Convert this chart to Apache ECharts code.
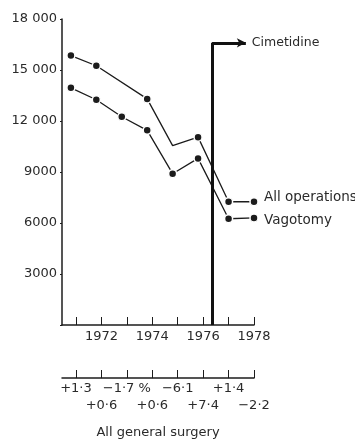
<!DOCTYPE html>
<html>
<head>
<meta charset="utf-8">
<script src="https://cdn.jsdelivr.net/npm/echarts@6/dist/echarts.min.js"></script>
<style>
  html, body { margin: 0; padding: 0; background: #fff; }
  #chart { width: 355px; height: 440px; }
</style>
</head>
<body>
<div id="chart"></div>
<script>
// Surveyed points (fractional year) and annual operation counts
const plotYears = [1970.8, 1971.8, 1972.8, 1973.8, 1974.8, 1975.8, 1977, 1978];
const allOperations = [15850, 15250, null, 13300, 10550, 11050, 7250, 7250];
const allOpsMarker = [true, true, false, true, false, true, true, true];
const vagotomy = [13950, 13250, 12250, 11450, 8900, 9800, 6250, 6300];

// Axis ticks and labels
const tickYears = [1971, 1972, 1973, 1974, 1975, 1976, 1977, 1978];
const labelYears = [1972, 1974, 1976, 1978];
const yTicks = [0, 3000, 6000, 9000, 12000, 15000, 18000];
const yTickLabels = ['', '3000', '6000', '9000', '12 000', '15 000', '18 000'];

// Year-on-year change in all general surgery
const changeYears = [1971, 1972, 1973, 1974, 1975, 1976, 1977, 1978];
const changeLabels = ['+1·3', '+0·6', '−1·7 %', '+0·6', '−6·1', '+7·4', '+1·4', '−2·2'];

// Introduction of cimetidine
const cimetidineYear = 1976.35;
const cimetidineTop = 16600;
const cimetidineArrowEnd = 1977.68;

const INK = '#1c1c1c';
const TEXT = '#2a2a2a';
const FONT = 'DejaVu Sans';
const X_MIN = 1970.45, X_MAX = 1978;

const chart = echarts.init(document.getElementById('chart'), null, { renderer: 'canvas' });

function pairs(xs, ys, markers) {
  return xs.map((x, i) => {
    if (ys[i] === null) return [x, null];
    const item = { value: [x, ys[i]] };
    if (markers && !markers[i]) item.symbol = 'none';
    return item;
  });
}

const textStyle = { color: TEXT, fontFamily: FONT, fontSize: 13 };

chart.setOption({
  animation: false,
  grid: [
    { left: 62, right: 101, top: 19, bottom: 115 },
    { left: 62, right: 101, top: 360, height: 18 }
  ],
  xAxis: [
    {
      type: 'value', gridIndex: 0, min: X_MIN, max: X_MAX,
      axisLine: { show: true, lineStyle: { color: INK, width: 1.5 } },
      axisTick: { show: true, inside: true, length: 8, customValues: tickYears, lineStyle: { color: INK, width: 1 } },
      axisLabel: Object.assign({ customValues: labelYears, margin: 5,
                   formatter: v => String(Math.round(v)) }, textStyle),
      splitLine: { show: false }
    },
    {
      type: 'value', gridIndex: 1, min: X_MIN, max: X_MAX,
      axisLine: { show: true, lineStyle: { color: INK, width: 1.5 } },
      axisTick: { show: true, inside: true, length: 8, customValues: changeYears, lineStyle: { color: INK, width: 1 } },
      axisLabel: { show: false, customValues: changeYears },
      splitLine: { show: false }
    }
  ],
  yAxis: [
    {
      type: 'value', gridIndex: 0, min: 0, max: 18000, interval: 3000,
      axisLine: { show: true, lineStyle: { color: INK, width: 1.5 } },
      axisTick: { show: true, length: 2, lineStyle: { color: INK } },
      axisLabel: Object.assign({ margin: 5,
        formatter: v => yTickLabels[yTicks.indexOf(v)] || '' }, textStyle),
      splitLine: { show: false }
    },
    { type: 'value', gridIndex: 1, show: false, min: 0, max: 1 }
  ],
  series: [
    {
      name: 'All operations',
      type: 'line',
      xAxisIndex: 0, yAxisIndex: 0,
      data: pairs(plotYears, allOperations, allOpsMarker),
      connectNulls: true,
      symbol: 'circle', symbolSize: 8,
      lineStyle: { color: INK, width: 1.3 },
      itemStyle: { color: INK, borderColor: '#fff', borderWidth: 1.5 },
      endLabel: Object.assign({ show: true, formatter: '{a}', distance: 10, offset: [0, -4] },
                              textStyle, { fontSize: 13.5 }),
      markLine: {
        silent: true,
        symbol: ['none', 'none'],
        lineStyle: { color: '#111', width: 3, type: 'solid' },
        label: { show: false },
        data: [
          [ { coord: [cimetidineYear, 0] }, { coord: [cimetidineYear, cimetidineTop] } ],
          [
            { coord: [cimetidineYear, cimetidineTop] },
            { coord: [cimetidineArrowEnd, cimetidineTop], symbol: 'arrow', symbolSize: [7, 9],
              label: Object.assign({ show: true, position: 'end', formatter: 'Cimetidine', distance: 6 },
                                   textStyle, { fontSize: 12.5 }) }
          ]
        ]
      }
    },
    {
      name: 'Vagotomy',
      type: 'line',
      xAxisIndex: 0, yAxisIndex: 0,
      data: pairs(plotYears, vagotomy),
      symbol: 'circle', symbolSize: 8,
      lineStyle: { color: INK, width: 1.3 },
      itemStyle: { color: INK, borderColor: '#fff', borderWidth: 1.5 },
      endLabel: Object.assign({ show: true, formatter: '{a}', distance: 10, offset: [0, 3] },
                              textStyle, { fontSize: 13.5 })
    },
    {
      // percentage change in all general surgery, staggered in two rows
      name: 'All general surgery',
      type: 'scatter',
      xAxisIndex: 1, yAxisIndex: 1,
      symbol: 'circle', symbolSize: 0.5,
      itemStyle: { color: INK, opacity: 1 },
      silent: true,
      data: changeYears.map((y, i) => ({ value: [y, 0], name: changeLabels[i] })),
      label: Object.assign({
        show: true,
        position: 'bottom',
        formatter: p => (p.dataIndex % 2 === 0 ? '' : '\n') + p.name,
        lineHeight: 17,
        verticalAlign: 'top',
        distance: 2,
        opacity: 1
      }, textStyle)
    }
  ],
  graphic: [
    {
      type: 'text', x: 158, y: 433,
      style: { text: 'All general surgery', align: 'center', verticalAlign: 'middle',
               fill: TEXT, font: '13px "DejaVu Sans"' }
    }
  ]
});
</script>
</body>
</html>
